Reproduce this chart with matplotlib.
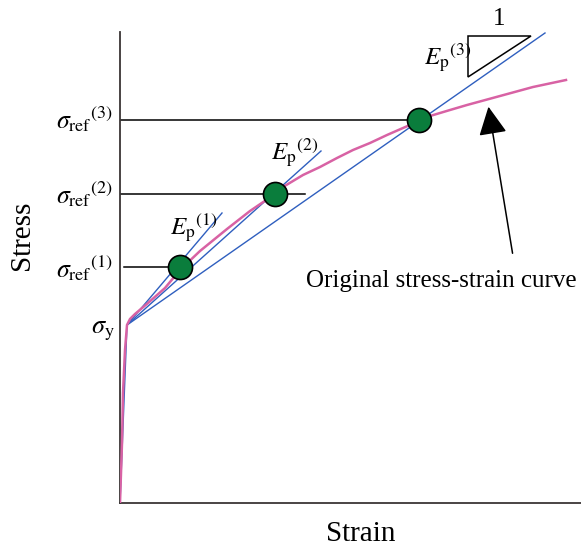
import matplotlib
matplotlib.use("Agg")
import matplotlib.pyplot as plt
from matplotlib.patches import Polygon, FancyArrowPatch

plt.rcParams['font.family'] = ['Liberation Serif', 'DejaVu Serif']
plt.rcParams['mathtext.fontset'] = 'stix'

# ---- data (schematic units) ----
curve_strain = [0, 2, 3, 5, 7, 10, 15, 28, 45, 60, 80, 107, 130, 155, 163, 183, 200, 217, 233, 250,
                267, 283, 290, 299, 310, 330, 347, 380, 413, 446]
curve_stress = [0, 60, 110, 153, 178, 184, 189, 200, 215, 233, 252, 274, 292, 309, 316, 328, 336, 345, 353, 360,
                368, 375, 378, 383, 387, 393, 398, 407, 416, 423]
yield_pt = (7, 178)
ref_strain = [60, 155, 299]
ref_stress = [236, 309, 383]
tangent_end_strain = [102, 201, 425]
tangent_end_stress = [290, 352, 470]
ref_line_start = [4, 0, 0]
ref_line_end = [60, 185, 299]
ref_labels = [r'$\sigma_{\mathrm{ref}}{}^{(1)}$', r'$\sigma_{\mathrm{ref}}{}^{(2)}$', r'$\sigma_{\mathrm{ref}}{}^{(3)}$']
ep_labels = [r'$E_{\mathrm{p}}{}^{(1)}$', r'$E_{\mathrm{p}}{}^{(2)}$', r'$E_{\mathrm{p}}{}^{(3)}$']

W, H = 581, 548
fig = plt.figure(figsize=(W / 100, H / 100), dpi=100)
x0, y0 = 120, 503
ax = fig.add_axes([x0 / W, (H - y0) / H, (W - x0) / W, (y0 - 32) / H])
ax.set_xlim(0, W - x0)
ax.set_ylim(0, y0 - 32)
for s in ['top', 'right']:
    ax.spines[s].set_visible(False)
for s in ['left', 'bottom']:
    ax.spines[s].set_color('#3a3535')
    ax.spines[s].set_linewidth(1.3)
ax.set_xticks([])
ax.set_yticks([])

blue = '#2f5fbf'
pink = '#d862a4'
green = '#0a7d3c'

# reference horizontal lines
for xs, xe, y in zip(ref_line_start, ref_line_end, ref_stress):
    ax.plot([xs, xe], [y, y], color='black', lw=1.1, zorder=2)

# elastic line
ax.plot([0, yield_pt[0]], [0, yield_pt[1]], color=blue, lw=1.0, zorder=3)
# tangent lines
for xe, ye in zip(tangent_end_strain, tangent_end_stress):
    ax.plot([yield_pt[0], xe], [yield_pt[1], ye], color=blue, lw=1.0, zorder=3)

# original curve
ax.plot(curve_strain, curve_stress, color=pink, lw=1.8, zorder=4, solid_joinstyle='round')

# reference points
ax.scatter(ref_strain, ref_stress, s=300, color=green, edgecolor='black', linewidth=1.2, zorder=5)

# labels on stress axis
ref_label_y = [226, 300, 375]
for lab, y in zip(ref_labels, ref_label_y):
    ax.text(-7, y, lab, ha='right', va='baseline', fontsize=18.5, clip_on=False)
ax.text(-5, 170, r'$\sigma_{\mathrm{y}}$', ha='right', va='baseline', fontsize=19, clip_on=False)

# E_p labels
ep_pos = [(50, 268), (151, 343), (304, 438)]
for lab, (x, y) in zip(ep_labels, ep_pos):
    ax.text(x, y, lab, ha='left', va='baseline', fontsize=18, clip_on=False)

# slope triangle
tri = Polygon([(348, 467), (411, 467), (348, 426)], closed=True, fill=False,
              edgecolor='black', lw=1.1, clip_on=False)
ax.add_patch(tri)
ax.text(379, 478, '1', ha='center', va='baseline', fontsize=18, clip_on=False)

# arrow and annotation
arr = FancyArrowPatch((393, 247), (368, 399), arrowstyle='-|>,head_length=1.1,head_width=0.55',
                      mutation_scale=16, color='black', lw=1.1, clip_on=False, zorder=6)
ax.add_patch(arr)
ax.text(321, 216, 'Original stress-strain curve', ha='center', va='baseline', fontsize=18, clip_on=False)

# axis titles
ax.text(241, -38, 'Strain', ha='center', va='baseline', fontsize=21, clip_on=False)
ax.text(-98, 268, 'Stress', ha='center', va='center', rotation=90, fontsize=21, clip_on=False)

fig.savefig('out.png', dpi=100)
